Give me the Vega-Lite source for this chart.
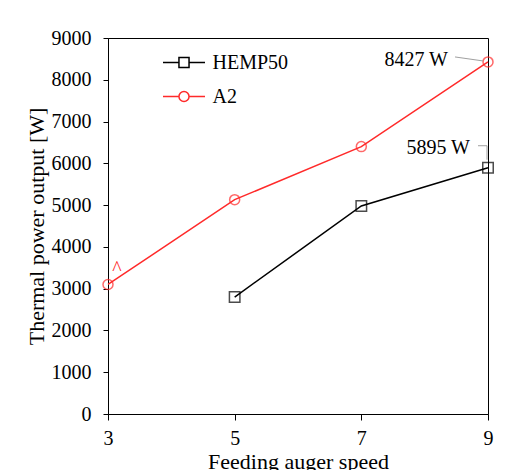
{
  "$schema": "https://vega.github.io/schema/vega-lite/v6.json",
  "autosize": "none",
  "width": 380,
  "height": 376,
  "padding": {"left": 108, "top": 38, "right": 39, "bottom": 56},
  "background": "white",
  "config": {
    "font": "Liberation Serif",
    "view": {"stroke": "black", "strokeWidth": 1},
    "axis": {
      "grid": false,
      "domainColor": "black",
      "tickColor": "black",
      "labelColor": "black",
      "titleColor": "black",
      "labelFont": "Liberation Serif",
      "titleFont": "Liberation Serif",
      "labelFontSize": 20,
      "titleFontSize": 22,
      "titleFontWeight": "normal"
    }
  },
  "data": {
    "values": [
      {"speed": 5, "power": 2800, "series": "HEMP50", "label": ""},
      {"speed": 7, "power": 4980, "series": "HEMP50", "label": ""},
      {"speed": 9, "power": 5895, "series": "HEMP50", "label": "5895 W"},
      {"speed": 3, "power": 3100, "series": "A2", "label": "^"},
      {"speed": 5, "power": 5130, "series": "A2", "label": ""},
      {"speed": 7, "power": 6400, "series": "A2", "label": ""},
      {"speed": 9, "power": 8427, "series": "A2", "label": "8427 W"}
    ]
  },
  "encoding": {
    "x": {
      "field": "speed",
      "type": "quantitative",
      "scale": {"domain": [3, 9], "nice": false, "zero": false},
      "axis": {"values": [3, 5, 7, 9], "format": "d", "tickSize": 6, "labelPadding": 8, "title": "Feeding auger speed", "titlePadding": 3, "labelFlush": false}
    },
    "y": {
      "field": "power",
      "type": "quantitative",
      "scale": {"domain": [0, 9000], "nice": false},
      "axis": {"values": [0, 1000, 2000, 3000, 4000, 5000, 6000, 7000, 8000, 9000], "format": "d", "tickSize": 5, "labelPadding": 12, "title": "Thermal power output [W]", "titlePadding": 3}
    }
  },
  "layer": [
    {
      "mark": {"type": "line", "strokeWidth": 1.5},
      "encoding": {
        "color": {
          "field": "series",
          "type": "nominal",
          "scale": {"domain": ["HEMP50", "A2"], "range": ["black", "#ff2a2a"]},
          "legend": {
            "title": null,
            "orient": "none",
            "legendX": 64.5,
            "legendY": 13,
            "padding": 0,
            "symbolSize": 441,
            "rowPadding": 12,
            "labelOffset": 17,
            "labelFont": "Liberation Serif",
            "labelFontSize": 20,
            "labelColor": "black",
            "symbolStrokeWidth": 1.5,
            "encode": {
              "symbols": {
                "update": {
                  "shape": {"signal": "datum.value === 'HEMP50' ? 'M-2,0H-0.48M0.48,0H2M-0.48,-0.48H0.48V0.48H-0.48Z' : 'M-2,0H-0.48M0.48,0H2M0.48,0A0.48,0.48,0,1,1,-0.48,0A0.48,0.48,0,1,1,0.48,0'"},
                  "fill": {"value": "transparent"},
                  "strokeWidth": {"value": 1.5}
                }
              }
            }
          }
        }
      }
    },
    {
      "transform": [{"filter": "datum.series === 'HEMP50'"}],
      "mark": {"type": "point", "shape": "square", "size": 110, "filled": false, "strokeWidth": 1.5},
      "encoding": {
        "color": {"field": "series", "type": "nominal"}
      }
    },
    {
      "transform": [{"filter": "datum.series === 'A2'"}],
      "mark": {"type": "point", "shape": "circle", "size": 100, "filled": false, "strokeWidth": 1.5},
      "encoding": {
        "color": {"field": "series", "type": "nominal"}
      }
    },
    {
      "transform": [{"filter": "datum.label === '8427 W'"}],
      "mark": {"type": "text", "align": "right", "baseline": "middle", "dx": -40, "dy": -2, "fontSize": 20, "font": "Liberation Serif", "color": "black"},
      "encoding": {"text": {"field": "label"}}
    },
    {
      "transform": [{"filter": "datum.label === '5895 W'"}],
      "mark": {"type": "text", "align": "right", "baseline": "middle", "dx": -18, "dy": -20, "fontSize": 20, "font": "Liberation Serif", "color": "black"},
      "encoding": {"text": {"field": "label"}}
    },
    {
      "transform": [{"filter": "datum.label === '^'"}],
      "mark": {"type": "text", "align": "center", "baseline": "alphabetic", "dx": 9, "dy": -9, "fontSize": 20, "font": "Liberation Serif", "color": "#ff2a2a"},
      "encoding": {"text": {"field": "label"}}
    },
    {
      "transform": [{"filter": "datum.label === '8427 W'"}],
      "mark": {"type": "rule", "color": "#a0a0a0", "strokeWidth": 1, "xOffset": -33, "yOffset": -5, "x2Offset": -5, "y2Offset": -1},
      "encoding": {"x2": {"field": "speed"}, "y2": {"field": "power"}}
    },
    {
      "transform": [{"filter": "datum.label === '5895 W'"}],
      "mark": {"type": "rule", "color": "#a0a0a0", "strokeWidth": 1, "xOffset": -10, "yOffset": -22, "x2Offset": -1, "y2Offset": -22},
      "encoding": {"x2": {"field": "speed"}, "y2": {"field": "power"}}
    },
    {
      "transform": [{"filter": "datum.label === '5895 W'"}],
      "mark": {"type": "rule", "color": "#a0a0a0", "strokeWidth": 1, "xOffset": -1, "yOffset": -22, "x2Offset": -1, "y2Offset": -8},
      "encoding": {"x2": {"field": "speed"}, "y2": {"field": "power"}}
    }
  ]
}
